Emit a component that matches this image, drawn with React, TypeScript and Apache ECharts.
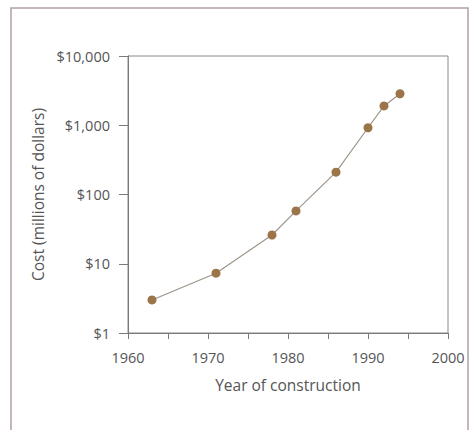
import React, { useEffect, useRef } from "react";
import * as echarts from "echarts";

const years = [1963, 1971, 1978, 1981, 1986, 1990, 1992, 1994];
const costs = [3, 7.3, 26, 58, 210, 920, 1900, 2850];
const xTickLabels = [1960, 1970, 1980, 1990, 2000];
const yTickLabels = ["$1", "$10", "$100", "$1,000", "$10,000"];

export default function App() {
  const ref = useRef<HTMLDivElement>(null);
  useEffect(() => {
    if (!ref.current) return;
    const chart = echarts.init(ref.current, null, { renderer: "svg" });
    const font = "'Open Sans', 'Noto Sans', sans-serif";
    chart.setOption({
      animation: false,
      backgroundColor: "#ffffff",
      graphic: [
        {
          type: "rect",
          shape: { x: 11, y: 8, width: 457, height: 440 },
          style: { fill: "none", stroke: "#b0a0a4", lineWidth: 1.5 },
          silent: true,
        },
      ],
      grid: {
        left: 128,
        top: 56,
        width: 320,
        height: 277,
        show: true,
        borderColor: "#8a8a8a",
        borderWidth: 1,
      },
      xAxis: {
        type: "value",
        min: 1960,
        max: 2000,
        interval: 5,
        name: "Year of construction",
        nameLocation: "middle",
        nameGap: 44,
        nameTextStyle: { fontFamily: font, fontSize: 15.5, color: "#555" },
        splitLine: { show: false },
        axisLine: { lineStyle: { color: "#7a7a7a" } },
        axisTick: { length: 6, lineStyle: { color: "#7a7a7a" } },
        axisLabel: {
          margin: 17,
          fontFamily: font,
          fontSize: 14.5,
          color: "#555",
          formatter: (v: number) =>
            xTickLabels.includes(v) ? String(v) : "",
        },
      },
      yAxis: {
        type: "log",
        logBase: 10,
        min: 1,
        max: 10000,
        name: "Cost (millions of dollars)",
        nameLocation: "middle",
        nameGap: 82,
        nameTextStyle: { fontFamily: font, fontSize: 15.5, color: "#555" },
        splitLine: { show: false },
        minorTick: { show: false },
        axisLine: { show: true, lineStyle: { color: "#7a7a7a" } },
        axisTick: { show: true, length: 9, lineStyle: { color: "#7a7a7a" } },
        axisLabel: {
          margin: 18,
          fontFamily: font,
          fontSize: 14.5,
          color: "#555",
          formatter: (v: number) => {
            const i = Math.round(Math.log10(v));
            return yTickLabels[i] ?? "";
          },
        },
      },
      series: [
        {
          type: "line",
          data: years.map((y, i) => [y, costs[i]]),
          symbol: "circle",
          symbolSize: 9,
          itemStyle: { color: "#9b7448" },
          lineStyle: { color: "#9e9488", width: 1.2 },
        },
      ],
    });
    return () => chart.dispose();
  }, []);
  return (
    <div
      ref={ref}
      style={{ position: "fixed", left: 0, top: 0, width: 473, height: 430 }}
    />
  );
}
